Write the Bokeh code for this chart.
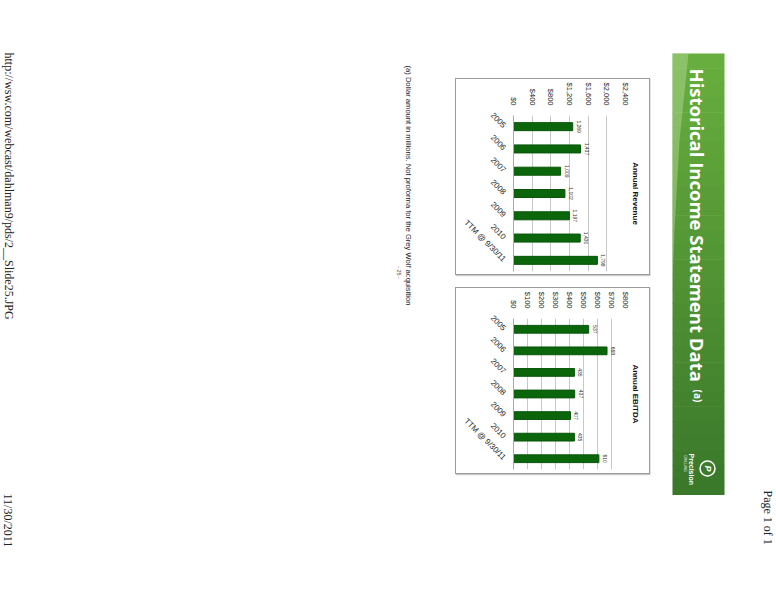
import math
from bokeh.plotting import figure
from bokeh.models import (Range1d, FactorRange, FixedTicker, NumeralTickFormatter,
                          Title, Spacer, ColumnDataSource)
from bokeh.layouts import row, column
from bokeh.embed import file_html
from bokeh.resources import INLINE
from bokeh.core.properties import value

# ---------------- data ----------------
categories = ["2005", "2006", "2007", "2008", "2009", "2010", "TTM @ 9/30/11"]
revenue = [1269, 1437, 1009, 1102, 1197, 1430, 1798]
revenue_labels = ["1,269", "1,437", "1,009", "1,102", "1,197", "1,430", "1,798"]
revenue_ticks = [0, 400, 800, 1200, 1600, 2000, 2400]
ebitda = [537, 668, 435, 437, 407, 435, 610]
ebitda_labels = ["537", "668", "435", "437", "407", "435", "610"]
ebitda_ticks = [0, 100, 200, 300, 400, 500, 600, 700, 800]

page_title = "Historical Income Statement Data"
footnote = "(a) Dollar amount in millions.  Not proforma for the Grey Wolf acquisition"
url_text = "http://wsw.com/webcast/dahlman9/pds/2__Slide25.JPG"

BAR = "#0b650b"
SANS = "Liberation Sans"
SERIF = "Liberation Serif"
H = 598


def Y(py):
    return 600 - py


def make_chart(title, vals, labels, ticks, vmax, width, height, bl, br, bt, bb):
    src = ColumnDataSource(dict(cat=categories, val=vals, lab=labels))
    p = figure(width=width, height=height,
               y_range=FactorRange(factors=list(reversed(categories))),
               x_range=Range1d(0, vmax), x_axis_location="above",
               output_backend="svg", toolbar_location=None,
               min_border_left=bl, min_border_right=br,
               min_border_top=bt, min_border_bottom=bb,
               styles={"border": "1px solid #9a9a9a",
                       "box-shadow": "1px 1px 1px #c8c8c8"})
    p.hbar(y="cat", left=0, right="val", height=0.36, source=src,
           fill_color=BAR, line_color="#0a560a")
    p.text(x="val", y="cat", text="lab", source=src, x_offset=6,
           angle=-math.pi / 2, text_align="center", text_baseline="middle",
           text_font_size="5px", text_font=value(SANS), text_color="#333333")
    tk = FixedTicker(ticks=ticks)
    xa = p.xaxis[0]
    xa.ticker = tk
    xa.formatter = NumeralTickFormatter(format="$0,0")
    xa.axis_line_color = None
    xa.major_tick_line_color = None
    xa.minor_tick_line_color = None
    xa.major_label_orientation = -math.pi / 2
    xa.major_label_text_font = SANS
    xa.major_label_text_font_size = "7.5px"
    xa.major_label_text_color = "#222222"
    xa.major_label_standoff = 4
    ya = p.yaxis[0]
    ya.axis_line_color = "#aaaaaa"
    ya.major_tick_line_color = None
    ya.minor_tick_line_color = None
    ya.major_label_orientation = -math.pi / 4
    ya.major_label_text_font = SANS
    ya.major_label_text_font_size = "8px"
    ya.major_label_text_color = "#222222"
    ya.major_label_standoff = 3
    p.xgrid.ticker = tk
    p.xgrid.grid_line_color = "#c8c8c8"
    p.ygrid.visible = False
    p.outline_line_color = None
    p.add_layout(Title(text=title, align="center", text_font=SANS,
                       text_font_size="8px", text_font_style="bold",
                       text_color="#111111"), "right")
    return p


rev = make_chart("Annual Revenue", revenue, revenue_labels, revenue_ticks, 2400,
                 195, 197, 57, 26, 35, 5)
ebt = make_chart("Annual EBITDA", ebitda, ebitda_labels, ebitda_ticks, 800,
                 195, 187, 53, 24, 29, 6)

# ---------------- left page area ----------------
left = figure(width=455, height=H, x_range=Range1d(0, 455), y_range=Range1d(600 - H, 600),
              output_backend="svg", toolbar_location=None, min_border=0)
left.axis.visible = False
left.grid.visible = False
left.outline_line_color = None
left.text(x=[8], y=[Y(52)], text=[url_text], angle=-math.pi / 2,
          text_align="left", text_baseline="middle", text_font=value(SERIF),
          text_font_size="12px", text_color="#222222")
left.text(x=[7], y=[Y(493)], text=["11/30/2011"], angle=-math.pi / 2,
          text_align="left", text_baseline="middle", text_font=value(SERIF),
          text_font_size="12px", text_color="#222222")
left.text(x=[408], y=[Y(65)], text=[footnote], angle=-math.pi / 2,
          text_align="left", text_baseline="middle", text_font=value(SANS),
          text_font_size="7.6px", text_color="#222222")
left.text(x=[398], y=[Y(272)], text=["- 25 -"], angle=-math.pi / 2,
          text_align="center", text_baseline="middle", text_font=value(SANS),
          text_font_size="5.5px", text_color="#444444")

# ---------------- right page area ----------------
right = figure(width=126, height=H, x_range=Range1d(650, 776), y_range=Range1d(600 - H, 600),
               output_backend="svg", toolbar_location=None, min_border=0)
right.axis.visible = False
right.grid.visible = False
right.outline_line_color = None

top_c = (104, 174, 62)
bot_c = (58, 120, 42)
N = 30
b_top, b_bot = 53, 494
tops, bots, cols = [], [], []
for i in range(N):
    t = i / (N - 1)
    c = tuple(int(round(top_c[k] + (bot_c[k] - top_c[k]) * t)) for k in range(3))
    y0 = b_top + (b_bot - b_top) * i / N
    y1 = b_top + (b_bot - b_top) * (i + 1) / N
    tops.append(Y(y0))
    bots.append(Y(y1) - 0.5)
    cols.append("#%02x%02x%02x" % c)
right.quad(left=672, right=724, top=tops, bottom=bots, fill_color=cols, line_color=None)
right.patch(x=[672, 688, 679, 674, 672], y=[Y(53), Y(53), Y(140), Y(230), Y(280)],
            fill_color="#b8dc9a", fill_alpha=0.45, line_color=None)

right.text(x=[697], y=[Y(68)], text=[page_title], angle=-math.pi / 2,
           text_align="left", text_baseline="middle", text_font=value("Open Sans"),
           text_font_size="18.5px", text_font_style="bold", text_color="white")
right.text(x=[697], y=[Y(389)], text=["(a)"], angle=-math.pi / 2,
           text_align="left", text_baseline="middle", text_font=value("Open Sans"),
           text_font_size="10px", text_font_style="bold", text_color="white")
right.scatter(x=[707], y=[Y(468)], size=15, marker="circle", fill_color=None,
              line_color="white", line_width=1.5)
right.text(x=[707], y=[Y(468)], text=["P"], angle=-math.pi / 2,
           text_align="center", text_baseline="middle", text_font=value(SANS),
           text_font_size="9px", text_font_style="bold italic", text_color="white")
right.text(x=[691], y=[Y(453)], text=["Precision"], angle=-math.pi / 2,
           text_align="left", text_baseline="middle", text_font=value(SANS),
           text_font_size="7px", text_font_style="bold", text_color="white")
right.text(x=[684], y=[Y(455)], text=["DRILLING"], angle=-math.pi / 2,
           text_align="left", text_baseline="middle", text_font=value(SANS),
           text_font_size="3.5px", text_color="white")
right.text(x=[767], y=[Y(490)], text=["Page 1 of 1"], angle=-math.pi / 2,
           text_align="left", text_baseline="middle", text_font=value(SERIF),
           text_font_size="12px", text_color="#222222")

mid = column(Spacer(width=195, height=78), rev, Spacer(width=195, height=12), ebt,
             Spacer(width=195, height=H - 78 - 197 - 12 - 187 - 4))
layout = row(left, mid, right)

open("out.html", "w").write(file_html(layout, INLINE))
